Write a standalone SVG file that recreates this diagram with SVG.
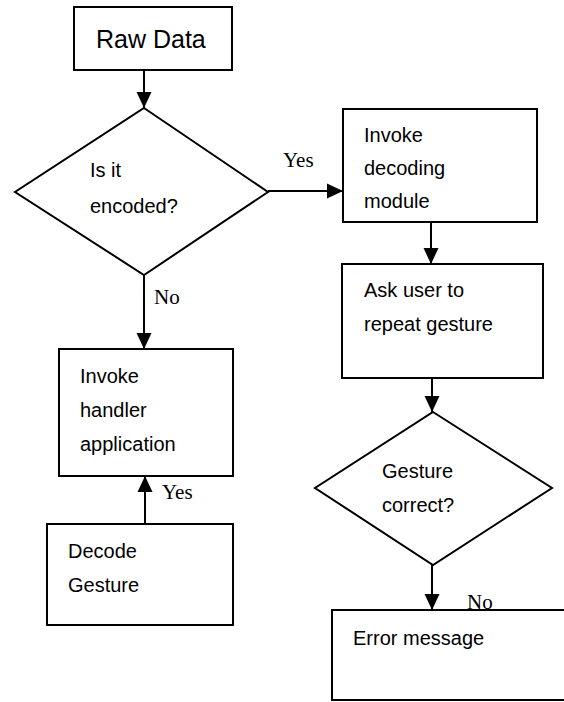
<svg xmlns="http://www.w3.org/2000/svg" width="564" height="702" viewBox="0 0 564 702">
<style>
.box{fill:#fff;stroke:#000;stroke-width:2}
.t{font-family:"Liberation Sans",Arial,sans-serif;font-size:20px;fill:#000}
.big{font-size:25px}
.lbl{font-family:"Liberation Serif","Times New Roman",serif;font-size:21px;fill:#000}
.c{stroke:#000;stroke-width:2;fill:none}
</style>
<defs>
<marker id="ah2" markerWidth="16" markerHeight="16" refX="16" refY="8" orient="auto" markerUnits="userSpaceOnUse" viewBox="0 0 16 16">
<path d="M0,0.5 L16,8 L0,15.5 z" fill="#000"/>
</marker>
</defs>
<g id="raw">
<rect class="box" x="74" y="7" width="158" height="63"/>
<text class="t big" x="96" y="48">Raw Data</text>
</g>
<g id="encoded">
<polygon class="box" points="144,108 268,192 144,275 15,192"/>
<text class="t" x="90" y="177">Is it</text>
<text class="t" x="90" y="213">encoded?</text>
</g>
<g id="decoding">
<rect class="box" x="343" y="109" width="194" height="113"/>
<text class="t" x="364" y="142">Invoke</text>
<text class="t" x="364" y="175">decoding</text>
<text class="t" x="364" y="208">module</text>
</g>
<g id="repeat">
<rect class="box" x="342" y="264" width="201" height="114"/>
<text class="t" x="364" y="297">Ask user to</text>
<text class="t" x="364" y="331">repeat gesture</text>
</g>
<g id="correct">
<polygon class="box" points="433,412 552,488 433,565 315,488"/>
<text class="t" x="382" y="478">Gesture</text>
<text class="t" x="382" y="512">correct?</text>
</g>
<g id="error">
<rect class="box" x="332" y="610" width="240" height="90"/>
<text class="t" x="353" y="645">Error message</text>
</g>
<g id="handler">
<rect class="box" x="59" y="349" width="174" height="127"/>
<text class="t" x="80" y="383">Invoke</text>
<text class="t" x="80" y="417">handler</text>
<text class="t" x="80" y="451">application</text>
</g>
<g id="decode">
<rect class="box" x="47" y="524" width="186" height="101"/>
<text class="t" x="68" y="558">Decode</text>
<text class="t" x="68" y="592">Gesture</text>
</g>
<g id="connectors">
<line class="c" x1="144" y1="70" x2="144" y2="108" marker-end="url(#ah2)"/>
<line class="c" x1="268" y1="191" x2="343" y2="191" marker-end="url(#ah2)"/>
<text class="lbl" x="283" y="167">Yes</text>
<line class="c" x1="144" y1="275" x2="144" y2="349" marker-end="url(#ah2)"/>
<text class="lbl" x="154" y="304">No</text>
<line class="c" x1="145" y1="524" x2="145" y2="476" marker-end="url(#ah2)"/>
<text class="lbl" x="162" y="499">Yes</text>
<line class="c" x1="431" y1="222" x2="431" y2="264" marker-end="url(#ah2)"/>
<line class="c" x1="432" y1="378" x2="432" y2="412" marker-end="url(#ah2)"/>
<line class="c" x1="432" y1="565" x2="432" y2="610" marker-end="url(#ah2)"/>
<text class="lbl" x="467" y="609">No</text>
</g>
</svg>
